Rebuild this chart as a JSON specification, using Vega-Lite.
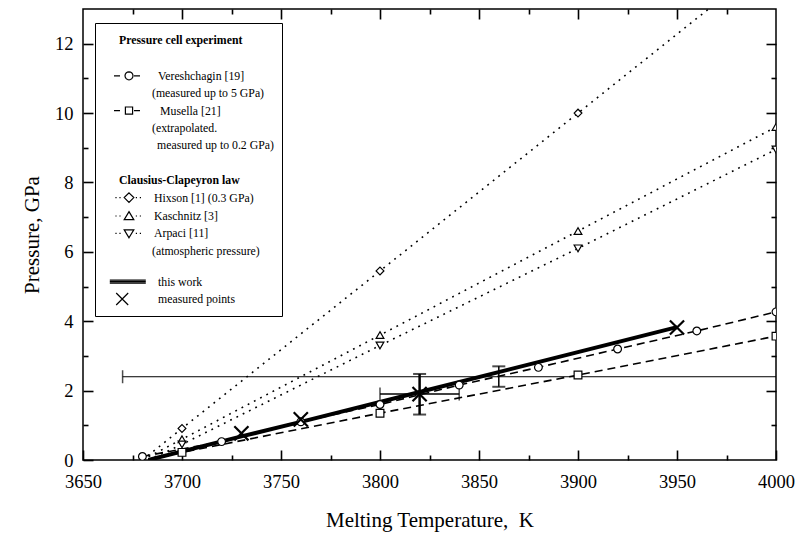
{
  "$schema": "https://vega.github.io/schema/vega-lite/v6.json",
  "width": 693,
  "height": 451,
  "autosize": "none",
  "padding": {"left": 83, "top": 9, "right": 25, "bottom": 78},
  "background": "white",
  "config": {
    "view": {"stroke": "black", "strokeWidth": 1.5},
    "font": "Liberation Serif",
    "axis": {
      "labelFont": "Liberation Serif",
      "titleFont": "Liberation Serif",
      "labelColor": "black",
      "titleColor": "black",
      "domain": false,
      "grid": false,
      "labelFontSize": 18.5,
      "titleFontSize": 21,
      "titleFontWeight": "normal",
      "labelFlush": false,
      "labelOverlap": false
    }
  },
  "datasets": {
    "curves": [
      {"series": "Vereshchagin", "T": 3680, "P": 0.1},
      {"series": "Vereshchagin", "T": 3720, "P": 0.53},
      {"series": "Vereshchagin", "T": 3760, "P": 1.1},
      {"series": "Vereshchagin", "T": 3800, "P": 1.6},
      {"series": "Vereshchagin", "T": 3840, "P": 2.16},
      {"series": "Vereshchagin", "T": 3880, "P": 2.67},
      {"series": "Vereshchagin", "T": 3920, "P": 3.2},
      {"series": "Vereshchagin", "T": 3960, "P": 3.72},
      {"series": "Vereshchagin", "T": 4000, "P": 4.27},
      {"series": "Musella", "T": 3683, "P": 0},
      {"series": "Musella", "T": 3700, "P": 0.22},
      {"series": "Musella", "T": 3800, "P": 1.35},
      {"series": "Musella", "T": 3900, "P": 2.45},
      {"series": "Musella", "T": 4000, "P": 3.57},
      {"series": "Hixson", "T": 3680, "P": 0},
      {"series": "Hixson", "T": 3700, "P": 0.91},
      {"series": "Hixson", "T": 3800, "P": 5.45},
      {"series": "Hixson", "T": 3900, "P": 10.0},
      {"series": "Hixson", "T": 4000, "P": 14.55},
      {"series": "Kaschnitz", "T": 3680, "P": 0},
      {"series": "Kaschnitz", "T": 3700, "P": 0.6},
      {"series": "Kaschnitz", "T": 3800, "P": 3.6},
      {"series": "Kaschnitz", "T": 3900, "P": 6.6},
      {"series": "Kaschnitz", "T": 4000, "P": 9.6},
      {"series": "Arpaci", "T": 3683, "P": 0},
      {"series": "Arpaci", "T": 3700, "P": 0.45},
      {"series": "Arpaci", "T": 3800, "P": 3.3},
      {"series": "Arpaci", "T": 3900, "P": 6.1},
      {"series": "Arpaci", "T": 4000, "P": 8.95},
      {"series": "This work", "T": 3683, "P": 0},
      {"series": "This work", "T": 3730, "P": 0.68},
      {"series": "This work", "T": 3760, "P": 1.1},
      {"series": "This work", "T": 3820, "P": 1.96},
      {"series": "This work", "T": 3950, "P": 3.83}
    ],
    "symbols": [
      {"series": "Vereshchagin", "T": 3680, "P": 0.1},
      {"series": "Vereshchagin", "T": 3720, "P": 0.53},
      {"series": "Vereshchagin", "T": 3760, "P": 1.1},
      {"series": "Vereshchagin", "T": 3800, "P": 1.6},
      {"series": "Vereshchagin", "T": 3840, "P": 2.16},
      {"series": "Vereshchagin", "T": 3880, "P": 2.67},
      {"series": "Vereshchagin", "T": 3920, "P": 3.2},
      {"series": "Vereshchagin", "T": 3960, "P": 3.72},
      {"series": "Vereshchagin", "T": 4000, "P": 4.27},
      {"series": "Musella", "T": 3700, "P": 0.22},
      {"series": "Musella", "T": 3800, "P": 1.35},
      {"series": "Musella", "T": 3900, "P": 2.45},
      {"series": "Musella", "T": 4000, "P": 3.57},
      {"series": "Hixson", "T": 3700, "P": 0.91},
      {"series": "Hixson", "T": 3800, "P": 5.45},
      {"series": "Hixson", "T": 3900, "P": 10.0},
      {"series": "Kaschnitz", "T": 3700, "P": 0.6},
      {"series": "Kaschnitz", "T": 3800, "P": 3.6},
      {"series": "Kaschnitz", "T": 3900, "P": 6.6},
      {"series": "Kaschnitz", "T": 4000, "P": 9.6},
      {"series": "Arpaci", "T": 3700, "P": 0.45},
      {"series": "Arpaci", "T": 3800, "P": 3.3},
      {"series": "Arpaci", "T": 3900, "P": 6.1},
      {"series": "Arpaci", "T": 4000, "P": 8.95}
    ],
    "measured": [
      {"T": 3730, "P": 0.77},
      {"T": 3760, "P": 1.17},
      {"T": 3820, "P": 1.9},
      {"T": 3950, "P": 3.82}
    ],
    "verr": [
      {"id": "m3820", "T": 3820, "Plo": 1.31, "Phi": 2.48},
      {"id": "m3860", "T": 3860, "Plo": 2.11, "Phi": 2.7}
    ],
    "herr": [
      {"id": "m3820", "P": 1.9, "Tlo": 3800, "Thi": 3840},
      {"id": "m3860", "P": 2.4, "Tlo": 3670, "Thi": 4020}
    ],
    "legendEntries": [
      {"entry": "Pressure cell experiment"}, {"entry": "b1"},
      {"entry": "Vereshchagin [19]"}, {"entry": "(measured up to 5 GPa)"},
      {"entry": "Musella [21]"}, {"entry": "(extrapolated."}, {"entry": "measured up to 0.2 GPa)"},
      {"entry": "b2"}, {"entry": "Clausius-Clapeyron law"},
      {"entry": "Hixson [1] (0.3 GPa)"}, {"entry": "Kaschnitz [3]"}, {"entry": "Arpaci [11]"}, {"entry": "(atmospheric pressure)"},
      {"entry": "b3"}, {"entry": "this work"}, {"entry": "measured points"}
    ]
  },
  "layer": [
    {
      "layer": [
        {
          "data": {"name": "curves"},
          "transform": [{"filter": "datum.series !== 'This work'"}],
          "mark": {"type": "line", "clip": true, "color": "black", "strokeWidth": 1.6},
          "encoding": {
            "x": {
              "field": "T", "type": "quantitative",
              "scale": {"domain": [3650, 4000], "nice": false, "zero": false},
              "axis": {
                "orient": "bottom",
                "values": [3650, 3700, 3750, 3800, 3850, 3900, 3950, 4000],
                "format": "d",
                "offset": -10,
                "ticks": true,
                "tickSize": 10,
                "tickWidth": 1.6,
                "tickColor": "black",
                "labelPadding": 12,
                "title": "Melting Temperature,\u00a0 K",
                "titlePadding": 19
              }
            },
            "y": {
              "field": "P", "type": "quantitative",
              "scale": {"domain": [0, 13], "nice": false, "zero": false},
              "axis": {
                "orient": "left",
                "values": [0, 2, 4, 6, 8, 10, 12],
                "offset": -10,
                "ticks": true,
                "tickSize": 10,
                "tickWidth": 1.6,
                "tickColor": "black",
                "labelPadding": 10,
                "title": "Pressure, GPa",
                "titlePadding": 12
              }
            },
            "detail": {"field": "series"},
            "strokeDash": {
              "field": "series", "type": "nominal",
              "scale": {
                "domain": ["Vereshchagin", "Musella", "Hixson", "Kaschnitz", "Arpaci"],
                "range": [[8, 5], [8, 5], [1.8, 5.2], [1.8, 5.2], [1.8, 5.2]]
              },
              "legend": null
            }
          }
        },
        {
          "data": {"name": "curves"},
          "transform": [{"filter": "datum.series === 'This work'"}],
          "mark": {"type": "line", "clip": true, "color": "black", "strokeWidth": 4},
          "encoding": {
            "x": {"field": "T", "type": "quantitative"},
            "y": {"field": "P", "type": "quantitative"}
          }
        },
        {
          "data": {"name": "herr"},
          "transform": [{"filter": "datum.id === 'm3860'"}],
          "mark": {"type": "rule", "clip": true, "color": "black", "strokeWidth": 1},
          "encoding": {
            "x": {"field": "Tlo", "type": "quantitative"},
            "x2": {"field": "Thi"},
            "y": {"field": "P", "type": "quantitative"}
          }
        },
        {
          "data": {"name": "herr"},
          "transform": [{"filter": "datum.id === 'm3820'"}],
          "mark": {"type": "rule", "clip": true, "color": "black", "strokeWidth": 1.5},
          "encoding": {
            "x": {"field": "Tlo", "type": "quantitative"},
            "x2": {"field": "Thi"},
            "y": {"field": "P", "type": "quantitative"}
          }
        },
        {
          "data": {"name": "herr"},
          "transform": [{"fold": ["Tlo", "Thi"], "as": ["end", "Tv"]}],
          "mark": {"type": "tick", "orient": "vertical", "clip": true, "color": "black", "size": 13, "thickness": 1.5},
          "encoding": {
            "x": {"field": "Tv", "type": "quantitative"},
            "y": {"field": "P", "type": "quantitative"}
          }
        },
        {
          "data": {"name": "verr"},
          "transform": [{"filter": "datum.id === 'm3820'"}],
          "mark": {"type": "rule", "clip": true, "color": "black", "strokeWidth": 2.5},
          "encoding": {
            "x": {"field": "T", "type": "quantitative"},
            "y": {"field": "Plo", "type": "quantitative"},
            "y2": {"field": "Phi"}
          }
        },
        {
          "data": {"name": "verr"},
          "transform": [{"filter": "datum.id === 'm3860'"}],
          "mark": {"type": "rule", "clip": true, "color": "black", "strokeWidth": 1.5},
          "encoding": {
            "x": {"field": "T", "type": "quantitative"},
            "y": {"field": "Plo", "type": "quantitative"},
            "y2": {"field": "Phi"}
          }
        },
        {
          "data": {"name": "verr"},
          "transform": [{"fold": ["Plo", "Phi"], "as": ["end", "Pv"]}],
          "mark": {"type": "tick", "orient": "horizontal", "clip": true, "color": "black", "size": 13, "thickness": 2},
          "encoding": {
            "x": {"field": "T", "type": "quantitative"},
            "y": {"field": "Pv", "type": "quantitative"}
          }
        },
        {
          "data": {"name": "symbols"},
          "mark": {"type": "point", "clip": true, "filled": true, "fill": "white", "stroke": "black", "strokeWidth": 1.2, "size": 60, "opacity": 1},
          "encoding": {
            "x": {"field": "T", "type": "quantitative"},
            "y": {"field": "P", "type": "quantitative"},
            "shape": {
              "field": "series", "type": "nominal",
              "scale": {
                "domain": ["Vereshchagin", "Musella", "Hixson", "Kaschnitz", "Arpaci"],
                "range": ["circle", "square", "diamond", "triangle-up", "triangle-down"]
              },
              "legend": null
            }
          }
        },
        {
          "data": {"name": "legendEntries"},
          "mark": {"type": "point", "filled": false, "color": "black", "strokeWidth": 1.2, "opacity": 0},
          "encoding": {
            "shape": {
              "field": "entry", "type": "nominal",
              "scale": {
                "domain": [
                  "Pressure cell experiment", "b1",
                  "Vereshchagin [19]", "(measured up to 5 GPa)",
                  "Musella [21]", "(extrapolated.", "measured up to 0.2 GPa)",
                  "b2",
                  "Clausius-Clapeyron law",
                  "Hixson [1] (0.3 GPa)", "Kaschnitz [3]", "Arpaci [11]", "(atmospheric pressure)",
                  "b3",
                  "this work", "measured points"
                ],
                "range": [
                  "M0,0", "M0,0",
                  "M-1.875,0H-1.125M0.5,0L0.462,0.191L0.354,0.354L0.191,0.462L0,0.5L-0.191,0.462L-0.354,0.354L-0.462,0.191L-0.5,0L-0.462,-0.191L-0.354,-0.354L-0.191,-0.462L0,-0.5L0.191,-0.462L0.354,-0.354L0.462,-0.191ZM0.625,0H1.375", "M0,0",
                  "M-1.875,0H-1.125M-0.45,-0.45H0.45V0.45H-0.45ZM0.625,0H1.375", "M0,0", "M0,0",
                  "M0,0",
                  "M0,0",
                  "M-1.7,0H-1.55M-1.2,0H-1.05M0,-0.6L0.6,0L0,0.6L-0.6,0ZM0.85,0H1M1.35,0H1.5",
                  "M-1.7,0H-1.55M-1.2,0H-1.05M0,-0.55L0.6,0.45L-0.6,0.45ZM0.85,0H1M1.35,0H1.5",
                  "M-1.7,0H-1.55M-1.2,0H-1.05M0,0.55L0.6,-0.45L-0.6,-0.45ZM0.85,0H1M1.35,0H1.5",
                  "M0,0",
                  "M0,0",
                  "M-2.4,-0.18H2.1M-2.4,0H2.1M-2.4,0.18H2.1",
                  "M-1.6,-0.75L-0.1,0.75M-1.6,0.75L-0.1,-0.75"
                ]
              },
              "legend": {
                "title": null,
                "orient": "none",
                "legendX": 12,
                "legendY": 14,
                "direction": "vertical",
                "columns": 1,
                "padding": 8,
                "strokeColor": "black",
                "fillColor": "white",
                "labelFont": "Liberation Serif",
                "labelFontSize": {"expr": "datum.label === 'b3' ? 0.5 : datum.label === 'b1' ? 15 : 11.8"},
                "labelColor": "black",
                "labelLimit": 0,
                "symbolSize": 256,
                "symbolStrokeWidth": 1.2,
                "symbolStrokeColor": "black",
                "symbolOpacity": 1,
                "symbolOffset": 17,
                "rowPadding": 1.4,
                "labelExpr": "indexof(['b1','b2','b3'], datum.label) >= 0 ? ' ' : datum.label",
                "labelFontWeight": {"expr": "indexof(['Pressure cell experiment','Clausius-Clapeyron law'], datum.label) >= 0 ? 'bold' : 'normal'"},
                "labelOffset": {"expr": "indexof(['Pressure cell experiment','Clausius-Clapeyron law'], datum.label) >= 0 ? -19 : indexof(['Vereshchagin [19]','this work','measured points'], datum.label) >= 0 ? 20 : datum.label === 'Musella [21]' ? 22 : indexof(['(measured up to 5 GPa)','(extrapolated.','(atmospheric pressure)'], datum.label) >= 0 ? 14 : datum.label === 'measured up to 0.2 GPa)' ? 19 : 16"}
              }
            }
          }
        }
      ],
      "resolve": {"scale": {"shape": "independent"}}
    },
    {
      "data": {"name": "measured"},
      "mark": {"type": "point", "opacity": 0},
      "encoding": {
        "x": {
          "field": "T", "type": "quantitative",
          "axis": {
            "orient": "bottom",
            "values": [3675, 3725, 3775, 3825, 3875, 3925, 3975],
            "offset": -5,
            "ticks": true,
            "tickSize": 5,
            "tickWidth": 1.6,
            "tickColor": "black",
            "labels": false,
            "title": null
          }
        },
        "y": {
          "field": "P", "type": "quantitative",
          "axis": {
            "orient": "left",
            "values": [1, 3, 5, 7, 9, 11],
            "offset": -5,
            "ticks": true,
            "tickSize": 5,
            "tickWidth": 1.6,
            "tickColor": "black",
            "labels": false,
            "title": null
          }
        }
      }
    },
    {
      "data": {"name": "measured"},
      "mark": {"type": "point", "shape": "M-1,-1L1,1M-1,1L1,-1", "size": 200, "strokeWidth": 2.2, "filled": false, "color": "black", "opacity": 1},
      "encoding": {
        "x": {
          "field": "T", "type": "quantitative",
          "axis": {
            "orient": "top",
            "values": [3700, 3750, 3800, 3850, 3900, 3950],
            "offset": -10,
            "ticks": true,
            "tickSize": 10,
            "tickWidth": 1.6,
            "tickColor": "black",
            "labels": false,
            "title": null
          }
        },
        "y": {
          "field": "P", "type": "quantitative",
          "axis": {
            "orient": "right",
            "values": [2, 4, 6, 8, 10, 12],
            "offset": -10,
            "ticks": true,
            "tickSize": 10,
            "tickWidth": 1.6,
            "tickColor": "black",
            "labels": false,
            "title": null
          }
        }
      }
    },
    {
      "data": {"name": "measured"},
      "mark": {"type": "point", "opacity": 0},
      "encoding": {
        "x": {
          "field": "T", "type": "quantitative",
          "axis": {
            "orient": "top",
            "values": [3675, 3725, 3775, 3825, 3875, 3925, 3975],
            "offset": -5,
            "ticks": true,
            "tickSize": 5,
            "tickWidth": 1.6,
            "tickColor": "black",
            "labels": false,
            "title": null
          }
        },
        "y": {
          "field": "P", "type": "quantitative",
          "axis": {
            "orient": "right",
            "values": [1, 3, 5, 7, 9, 11],
            "offset": -5,
            "ticks": true,
            "tickSize": 5,
            "tickWidth": 1.6,
            "tickColor": "black",
            "labels": false,
            "title": null
          }
        }
      }
    }
  ],
  "resolve": {"scale": {"shape": "independent"}, "axis": {"x": "independent", "y": "independent"}}
}
